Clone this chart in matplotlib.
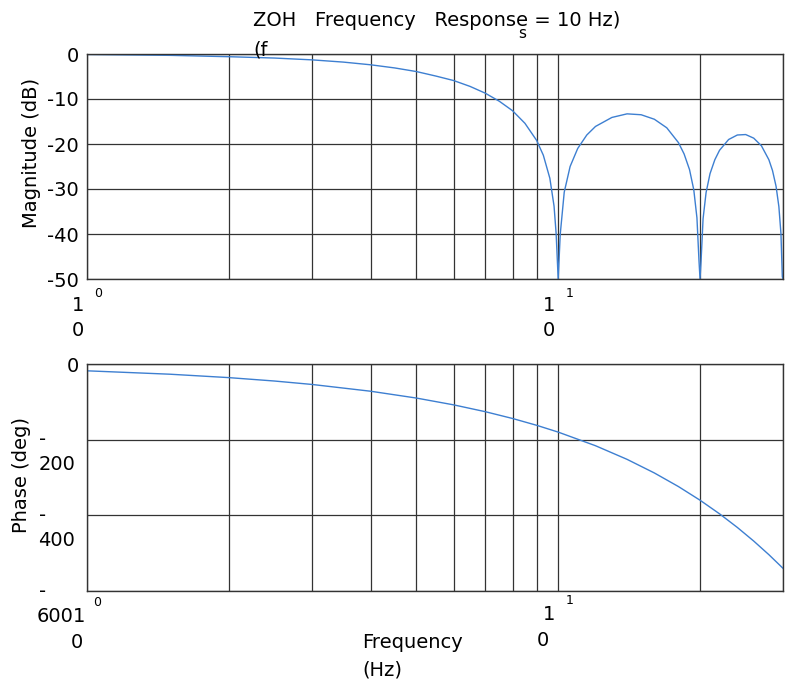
import matplotlib
matplotlib.use('Agg')
import matplotlib.pyplot as plt
from matplotlib.ticker import LogLocator, NullFormatter
from matplotlib.transforms import offset_copy

# values (fs = 10 Hz)
freq_mag = [1, 1.5, 2, 2.5, 3, 3.5, 4, 4.5, 5, 5.5, 6, 6.5, 7, 7.5, 8, 8.5, 9, 9.3, 9.6, 9.8, 9.9, 10,
            10.1, 10.3, 10.6, 11, 11.5, 12, 13, 14, 15, 16, 17, 18, 18.5, 19, 19.4, 19.7, 19.9, 20,
            20.1, 20.3, 20.6, 21, 21.5, 22, 23, 24, 25, 26, 27, 28, 28.5, 29, 29.4, 29.7, 29.9, 30]
mag_db = [-0.1, -0.3, -0.6, -0.9, -1.3, -1.8, -2.4, -3.1, -3.9, -4.9, -5.9, -7.2, -8.7, -10.5, -12.6, -15.4, -19.2, -22.5, -27.6, -33.8, -39.9, -50,
          -40.1, -30.7, -25.0, -21.0, -18.0, -16.1, -14.1, -13.3, -13.5, -14.5, -16.4, -19.7, -22.2, -25.7, -30.2, -36.4, -46.0, -50,
          -46.1, -36.6, -30.8, -26.6, -23.5, -21.4, -19.0, -18.0, -17.9, -18.7, -20.4, -23.5, -25.9, -29.4, -33.9, -39.9, -49.5, -50]

freq_phase = [1, 1.5, 2, 2.5, 3, 4, 5, 6, 7, 8, 9, 10, 12, 14, 16, 18, 20, 22, 24, 26, 28, 30]
phase_deg = [-18, -27, -36, -45, -54, -72, -90, -108, -126, -144, -162, -180,
             -216, -252, -288, -324, -360, -396, -432, -468, -504, -540]

mag_ticks = [-50, -40, -30, -20, -10, 0]
phase_ticks = [-600, -400, -200, 0]

plt.rcParams['font.family'] = 'DejaVu Sans'
plt.rcParams['font.size'] = 14
plt.rcParams['axes.unicode_minus'] = False

blue = '#3d7fd1'
W, H = 786, 681
fig = plt.figure(figsize=(W / 100, H / 100), dpi=100)
ax1 = fig.add_axes([87 / W, 1 - 279 / H, 696 / W, 225 / H])
ax2 = fig.add_axes([87 / W, 1 - 591 / H, 696 / W, 227 / H])

for ax in (ax1, ax2):
    ax.set_xscale('log')
    ax.set_xlim(1, 30)
    ax.xaxis.set_minor_locator(LogLocator(subs=range(2, 10)))
    ax.xaxis.set_minor_formatter(NullFormatter())
    ax.set_xticks([1, 10])
    ax.set_xticklabels([])
    ax.grid(True, which='both', color='#333333', lw=0.9)
    ax.tick_params(which='both', length=0, pad=6)
    for sp in ax.spines.values():
        sp.set_color('#333333')
        sp.set_linewidth(1.0)

ax1.plot(freq_mag, mag_db, color=blue, lw=1.0)
ax1.set_ylim(-50, 0)
ax1.set_yticks(mag_ticks)

ax2.plot(freq_phase, phase_deg, color=blue, lw=1.0)
ax2.set_ylim(-600, 0)
ax2.set_yticks(phase_ticks)
ax2.set_yticklabels(['', '', '', '0'])


def put(ax, x, y, s, dx, dy, tr='x', **kw):
    base = ax.get_xaxis_transform() if tr == 'x' else ax.get_yaxis_transform()
    ax.text(x, y, s, transform=offset_copy(base, fig, x=dx, y=dy, units='dots'),
            ha=kw.pop('ha', 'center'), va='center', clip_on=False, **kw)


# scrambled decade labels, as in the scan
put(ax1, 1, 0, '1', -9, -26)
put(ax1, 1, 0, '0', -9, -51)
put(ax1, 1, 0, '0', 11, -14, fontsize=9)
put(ax1, 10, 0, '1', -9, -26)
put(ax1, 10, 0, '0', -9, -51)
put(ax1, 10, 0, '1', 11, -14, fontsize=9)

put(ax2, 1, 0, '1', -8, -26)
put(ax2, 1, 0, '0', -10, -51)
put(ax2, 1, 0, '0', 10, -12, fontsize=9)
put(ax2, 10, 0, '1', -9, -23)
put(ax2, 10, 0, '0', -15, -50)
put(ax2, 10, 0, '1', 11, -9, fontsize=9)

for v, lbl in [(-200, '200'), (-400, '400'), (-600, '600')]:
    put(ax2, 0, v, '-', -44, 0, tr='y')
    put(ax2, 0, v, lbl, -12 if v != -600 else -14, -25, tr='y', ha='right')

# title pieces
fig.text(253 / W, 1 - 21 / H, 'ZOH   Frequency   Response = 10 Hz)', ha='left', va='center')
fig.text(522 / W, 1 - 34 / H, 's', ha='center', va='center', fontsize=11)
fig.text(253 / W, 1 - 50 / H, '(f', ha='left', va='center')

fig.text(32 / W, 1 - 153 / H, 'Magnitude (dB)', rotation=90, ha='center', va='center')
fig.text(22 / W, 1 - 475 / H, 'Phase (deg)', rotation=90, ha='center', va='center')
fig.text(362 / W, 1 - 643 / H, 'Frequency', ha='left', va='center')
fig.text(362 / W, 1 - 670 / H, '(Hz)', ha='left', va='center')

fig.savefig('out.png', dpi=100)
